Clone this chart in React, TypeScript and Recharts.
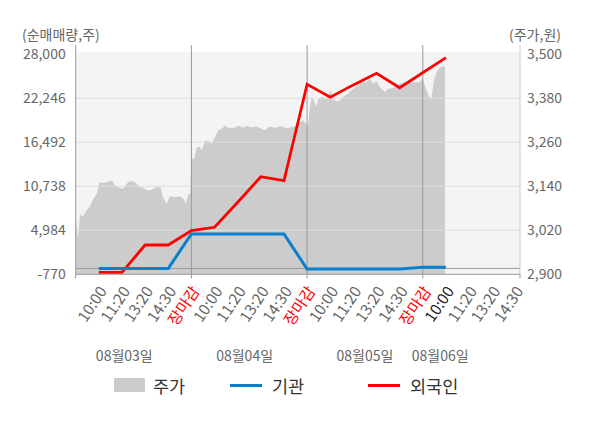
import React from 'react';
import { ComposedChart, Area, Line, XAxis, YAxis, ReferenceLine, ReferenceArea } from 'recharts';

// x positions are "slots": 0 = open of 08/03, each day has 5 slots, 5 = close
const xTickLabels = [
  '', '10:00', '11:20', '13:20', '14:30', '장마감',
  '10:00', '11:20', '13:20', '14:30', '장마감',
  '10:00', '11:20', '13:20', '14:30', '장마감',
  '10:00', '11:20', '13:20', '14:30',
];
const closeLabel = '장마감';
const todayOpenSlot = 16;
const daySplits = [5, 10, 15];
const dayLabels = ['08월03일', '08월04일', '08월05일', '08월06일'];
const dayLabelSlots = [2.1, 7.3, 12.5, 15.75];

const leftTicks = [-770, 4984, 10738, 16492, 22246, 28000];
const rightTicks = [2900, 3020, 3140, 3260, 3380, 3500];

// net buying, one value per slot 1..16
const tradeSlots = [1, 2, 3, 4, 5, 6, 7, 8, 9, 10, 11, 12, 13, 14, 15, 16];
const foreignValues = [-520, -520, 3060, 3060, 4950, 5380, 8650, 11990, 11470, 24080, 22380, 24000, 25520, 23630, 25600, 27560];
const instValues = [0, 0, 0, 0, 4500, 4500, 4500, 4500, 4500, -80, -80, -80, -80, -80, 140, 140];

// share price
const priceSlots = [
  0, 0.1, 0.19, 0.26, 0.33, 0.48, 0.62, 0.76, 0.91, 1.02,
  1.19, 1.34, 1.56, 1.7, 1.84, 2.06, 2.27, 2.49, 2.64, 2.78,
  2.92, 3.07, 3.28, 3.5, 3.67, 3.78, 3.93, 4.07, 4.29, 4.5,
  4.65, 4.76, 4.88, 4.95,
  5.01, 5.12, 5.23, 5.37, 5.44, 5.59, 5.73, 5.87, 6.02, 6.16,
  6.31, 6.45, 6.59, 6.88, 7.02, 7.24, 7.39, 7.6, 7.82, 8.03,
  8.18, 8.39, 8.61, 8.9, 9.11, 9.33, 9.55, 9.69, 9.83, 9.95,
  10.05, 10.12, 10.19, 10.29, 10.41, 10.48, 10.63, 10.84, 11.02, 11.13,
  11.27, 11.42, 11.56, 11.78, 11.99, 12.21, 12.42, 12.57, 12.71, 12.86,
  13.0, 13.14, 13.36, 13.5, 13.72, 14.01, 14.3, 14.58, 14.87, 14.99,
  15.09, 15.19, 15.3, 15.38, 15.45, 15.52, 15.62, 15.73, 15.91, 15.96,
];
const priceValues = [
  3056, 2997, 3065, 3056, 3061, 3075, 3085, 3106, 3120, 3152,
  3149, 3152, 3156, 3143, 3136, 3134, 3152, 3154, 3147, 3136,
  3136, 3129, 3130, 3138, 3136, 3109, 3093, 3113, 3111, 3113,
  3106, 3094, 3120, 3120,
  3218, 3213, 3247, 3247, 3238, 3264, 3264, 3256, 3273, 3293,
  3297, 3306, 3300, 3300, 3306, 3300, 3305, 3301, 3303, 3297,
  3293, 3303, 3300, 3304, 3298, 3301, 3306, 3315, 3320, 3310,
  3308, 3356, 3384, 3375, 3356, 3379, 3384, 3380, 3402, 3379,
  3372, 3374, 3384, 3393, 3406, 3415, 3426, 3424, 3434, 3420,
  3428, 3411, 3397, 3406, 3408, 3420, 3426, 3424, 3424, 3434,
  3415, 3397, 3381, 3383, 3415, 3438, 3454, 3465, 3468, 3466,
];

const X_MAX = 19.2;
const LEFT_MAX = 29216; // room above 28,000 for the header strip
const RIGHT_MAX = 3525.4;

type Row = { slot: number; price?: number; foreign?: number; inst?: number };

function buildRows(): Row[] {
  const map = new Map<number, Row>();
  priceSlots.forEach((s, i) => {
    map.set(s, { slot: s, price: priceValues[i] });
  });
  tradeSlots.forEach((s, i) => {
    const row = map.get(s) || { slot: s };
    row.foreign = foreignValues[i];
    row.inst = instValues[i];
    map.set(s, row);
  });
  return Array.from(map.values()).sort((a, b) => a.slot - b.slot);
}

const rows = buildRows();

function TimeTick({ x, y, payload }: any) {
  const slot = payload.value;
  const dayIdx = dayLabelSlots.indexOf(slot);
  if (dayIdx >= 0) {
    return (
      <text x={x} y={y + 81} textAnchor="middle" dominantBaseline="central" fontSize={14} fill="#666">
        {dayLabels[dayIdx]}
      </text>
    );
  }
  const label = xTickLabels[slot] ?? '';
  const edge = slot % 5 === 0 || slot === X_MAX;
  let color = '#666';
  if (label === closeLabel) color = '#ff0000';
  else if (slot === todayOpenSlot) color = '#222';
  return (
    <g>
      {edge && <line x1={x} x2={x} y1={y} y2={y + 4} stroke="#999" />}
      {label && (
        <text
          transform={`translate(${x + 3},${y + 13}) rotate(-56)`}
          textAnchor="end"
          dominantBaseline="central"
          fontSize={15.5}
          fill={color}
        >
          {label}
        </text>
      )}
    </g>
  );
}

const fmt = (v: number) => v.toLocaleString('en-US');

export default function App() {
  const timeTicks = [...xTickLabels.map((_, i) => i), X_MAX, ...dayLabelSlots].sort((a, b) => a - b);

  return (
    <div style={{ position: 'relative', width: 600, height: 428, fontFamily: "'Noto Sans CJK KR', 'Noto Sans', sans-serif", background: '#fff' }}>
      <style>{`body{margin:0}`}</style>
      <div style={{ position: 'absolute', left: 22, top: 24, fontSize: 14, color: '#666' }}>(순매매량,주)</div>
      <div style={{ position: 'absolute', left: 509, top: 24, fontSize: 14, color: '#666' }}>(주가,원)</div>

      <ComposedChart width={600} height={380} data={rows} margin={{ top: 45, right: 0, left: 0, bottom: 6.7 }}>
        <XAxis
          xAxisId="time"
          dataKey="slot"
          type="number"
          domain={[0, X_MAX]}
          ticks={timeTicks}
          interval={0}
          tick={<TimeTick />}
          tickSize={0}
          tickMargin={0}
          tickLine={false}
          axisLine={{ stroke: '#999' }}
          height={99}
          allowDataOverflow
        />
        <YAxis
          yAxisId="left"
          domain={[-770, LEFT_MAX]}
          ticks={leftTicks}
          interval={0}
          tickFormatter={fmt}
          tick={{ fontSize: 14, fill: '#666' }}
          tickLine={false}
          tickSize={8}
          tickMargin={2}
          axisLine={{ stroke: '#999' }}
          width={75.7}
          allowDataOverflow
        />
        <YAxis
          yAxisId="right"
          orientation="right"
          domain={[2900, RIGHT_MAX]}
          ticks={rightTicks}
          interval={0}
          tickFormatter={fmt}
          tick={{ fontSize: 14, fill: '#666' }}
          tickLine={false}
          tickSize={5}
          tickMargin={2}
          axisLine={{ stroke: '#ccc' }}
          width={80}
          allowDataOverflow
        />

        <ReferenceArea xAxisId="time" yAxisId="left" x1={0} x2={X_MAX} y1={-770} y2={28300} fill="#f4f4f4" fillOpacity={1} stroke="none" />

        <Area
          xAxisId="time"
          yAxisId="right"
          type="linear"
          dataKey="price"
          fill="#cccccc"
          fillOpacity={1}
          stroke="none"
          connectNulls
          isAnimationActive={false}
        />

        {leftTicks.slice(1, -1).map((v) => (
          <ReferenceLine key={v} xAxisId="time" yAxisId="left" y={v} stroke="#dedede" />
        ))}
        {daySplits.map((s) => (
          <ReferenceLine key={s} xAxisId="time" yAxisId="left" x={s} stroke="#999" />
        ))}
        <ReferenceLine xAxisId="time" yAxisId="left" y={0} stroke="#999" />

        <Line
          xAxisId="time"
          yAxisId="left"
          type="linear"
          dataKey="foreign"
          stroke="#ff0000"
          strokeWidth={2.8}
          dot={false}
          connectNulls
          isAnimationActive={false}
        />
        <Line
          xAxisId="time"
          yAxisId="left"
          type="linear"
          dataKey="inst"
          stroke="#0a7fcc"
          strokeWidth={3}
          dot={false}
          connectNulls
          isAnimationActive={false}
        />
      </ComposedChart>

      <div style={{ position: 'absolute', top: 373, left: 114, display: 'flex', alignItems: 'center', height: 24, fontSize: 17.5, color: '#333' }}>
        <div style={{ width: 116, display: 'flex', alignItems: 'center' }}>
          <span style={{ width: 31, height: 14, background: '#cccccc', marginRight: 8 }} />
          <span>주가</span>
        </div>
        <div style={{ width: 138, display: 'flex', alignItems: 'center' }}>
          <span style={{ width: 32, height: 3, background: '#0a7fcc', marginRight: 10 }} />
          <span>기관</span>
        </div>
        <div style={{ display: 'flex', alignItems: 'center' }}>
          <span style={{ width: 32, height: 3, background: '#ff0000', marginRight: 10 }} />
          <span>외국인</span>
        </div>
      </div>
    </div>
  );
}
